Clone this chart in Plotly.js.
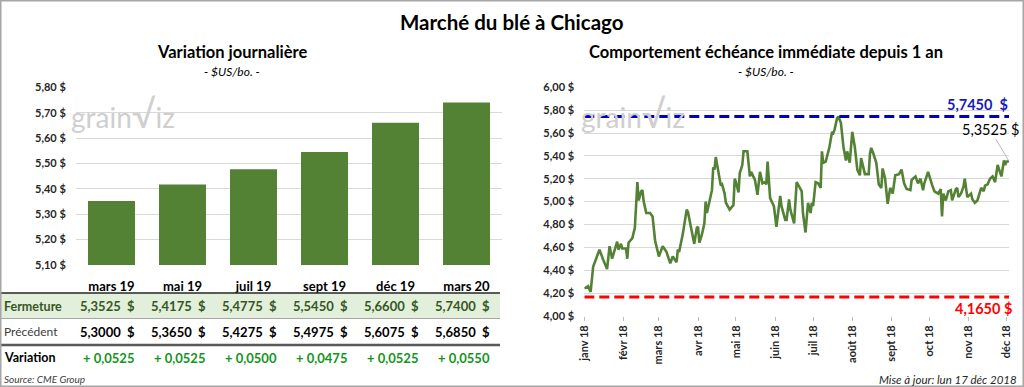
<!DOCTYPE html>
<html><head><meta charset="utf-8">
<script src="https://cdn.plot.ly/plotly-3.0.1.min.js"></script>
<style>html,body{margin:0;padding:0;background:#fff}</style>
</head><body><div id="chart" style="width:1024px;height:387px"></div>
<script>
// ---- Data: left chart (futures curve) ----
const contracts = ['mars 19', 'mai 19', 'juil 19', 'sept 19', 'déc 19', 'mars 20'];
const closing   = [5.3525, 5.4175, 5.4775, 5.5450, 5.6600, 5.7400];
const previous  = [5.3000, 5.3650, 5.4275, 5.4975, 5.6075, 5.6850];

// ---- Data: right chart (nearby contract over one year) ----
const dates = [
'2018-01-01','2018-01-04','2018-01-06','2018-01-08','2018-01-11','2018-01-13','2018-01-16','2018-01-19','2018-01-21','2018-01-23','2018-01-27','2018-01-28','2018-01-30','2018-01-31',
'2018-02-03','2018-02-04','2018-02-05','2018-02-08','2018-02-10','2018-02-12','2018-02-13','2018-02-15','2018-02-16','2018-02-17','2018-02-19','2018-02-21','2018-02-22','2018-02-24','2018-02-26',
'2018-03-01','2018-03-04','2018-03-07','2018-03-10','2018-03-12','2018-03-14','2018-03-15','2018-03-16','2018-03-17','2018-03-20','2018-03-23','2018-03-24','2018-03-27','2018-03-29','2018-03-31',
'2018-04-01','2018-04-02','2018-04-04','2018-04-06','2018-04-07','2018-04-08','2018-04-10','2018-04-12','2018-04-13','2018-04-14','2018-04-15','2018-04-17','2018-04-19','2018-04-20','2018-04-22','2018-04-23','2018-04-26','2018-04-29','2018-04-30',
'2018-05-01','2018-05-03','2018-05-04','2018-05-06','2018-05-07','2018-05-10','2018-05-12','2018-05-13','2018-05-16','2018-05-18','2018-05-20','2018-05-22','2018-05-24','2018-05-25','2018-05-26','2018-05-28','2018-05-31',
'2018-06-02','2018-06-05','2018-06-06','2018-06-09','2018-06-10','2018-06-12','2018-06-13','2018-06-16','2018-06-18','2018-06-20','2018-06-22','2018-06-23','2018-06-25','2018-06-27','2018-06-29','2018-06-30',
'2018-07-01','2018-07-03','2018-07-05','2018-07-07','2018-07-08','2018-07-09','2018-07-11','2018-07-14','2018-07-16','2018-07-17','2018-07-18','2018-07-20','2018-07-21','2018-07-23','2018-07-25','2018-07-27','2018-07-28','2018-07-30',
'2018-08-01','2018-08-03','2018-08-05','2018-08-07','2018-08-08','2018-08-11','2018-08-14','2018-08-15','2018-08-16','2018-08-18','2018-08-20','2018-08-22','2018-08-24','2018-08-25','2018-08-27','2018-08-29','2018-08-31',
'2018-09-02','2018-09-04','2018-09-07','2018-09-09','2018-09-11','2018-09-13','2018-09-16','2018-09-17','2018-09-20','2018-09-22','2018-09-24','2018-09-26','2018-09-27','2018-09-29','2018-09-30',
'2018-10-03','2018-10-05','2018-10-08','2018-10-10','2018-10-11','2018-10-12','2018-10-14','2018-10-16','2018-10-18','2018-10-19','2018-10-22','2018-10-23','2018-10-24','2018-10-26','2018-10-28','2018-10-29','2018-10-31',
'2018-11-03','2018-11-04','2018-11-06','2018-11-08','2018-11-10','2018-11-11','2018-11-13','2018-11-14','2018-11-16','2018-11-18','2018-11-20','2018-11-22','2018-11-24','2018-11-25','2018-11-27','2018-11-29','2018-11-30',
'2018-12-01','2018-12-03'
];
const prices = [
4.24,4.26,4.21,4.43,4.52,4.58,4.49,4.41,4.61,4.50,4.65,4.58,4.63,4.59,
4.59,4.50,4.64,4.68,4.77,5.17,5.01,5.09,5.10,5.00,4.90,4.90,4.90,4.87,4.66,
4.52,4.61,4.56,4.46,4.52,4.49,4.47,4.58,4.56,4.72,4.93,4.91,4.72,4.63,4.77,
4.78,4.64,4.71,4.81,5.00,4.90,5.01,5.10,5.30,5.28,5.39,5.25,5.14,5.15,5.07,4.99,4.93,4.97,5.20,
5.17,5.08,5.25,5.32,5.44,5.44,5.22,5.26,5.19,5.06,5.26,5.16,5.17,5.15,5.35,5.03,4.96,
4.78,5.05,4.96,4.84,4.84,5.02,4.93,4.81,5.17,5.13,5.09,4.90,4.73,4.99,4.90,4.99,
4.96,5.17,5.16,5.12,5.44,5.34,5.35,5.48,5.61,5.60,5.63,5.73,5.745,5.69,5.48,5.36,5.44,5.34,
5.61,5.48,5.28,5.23,5.38,5.24,5.24,5.42,5.47,5.41,5.34,5.15,5.12,5.29,5.20,4.98,5.12,
5.07,5.23,5.24,5.28,5.16,5.11,5.10,5.19,5.22,5.16,5.20,5.10,5.16,5.23,5.26,
5.15,5.09,5.07,5.11,4.87,5.07,5.01,5.09,5.10,5.01,5.11,5.12,5.04,5.07,5.13,5.20,5.04,
5.07,5.02,4.99,5.01,5.10,5.12,5.09,5.14,5.15,5.20,5.22,5.17,5.32,5.28,5.22,5.36,5.32,
5.35,5.3525
];
const monthTicks  = ['2018-01-01','2018-02-01','2018-03-01','2018-04-01','2018-05-01','2018-06-01','2018-07-01','2018-08-01','2018-09-01','2018-10-01','2018-11-01','2018-12-01'];
const monthLabels = ['janv 18','févr 18','mars 18','avr 18','mai 18','juin 18','juil 18','août 18','sept 18','oct 18','nov 18','déc 18'];
const yearHigh = 5.7450;
const yearLow  = 4.1650;

// ---- Styling ----
const FONT = 'Lato, "Open Sans", sans-serif';
const GREEN = '#548235';
const fmt4 = v => v.toFixed(4).replace('.', ',');
const NB = '\u00a0';

const traces = [
  { type: 'bar', x: contracts, y: closing, xaxis: 'x', yaxis: 'y',
    marker: { color: GREEN, line: { width: 0 } }, hoverinfo: 'skip' },
  { type: 'scatter', mode: 'lines', x: dates, y: prices, xaxis: 'x2', yaxis: 'y2',
    line: { color: GREEN, width: 2.6 }, hoverinfo: 'skip' }
];

const ann = [];
function A(o) { ann.push(Object.assign({ showarrow: false, xanchor: 'center', yanchor: 'middle', font: { family: FONT, size: 12, color: '#000' } }, o)); }

// Titles
A({ text: '<b>Marché du blé à Chicago</b>', xref: 'paper', yref: 'paper', x: 512/1024, y: 1 - 22/387, font: { family: FONT, size: 20.5, color: '#000' } });
A({ text: '<b>Variation journalière</b>', xref: 'paper', yref: 'paper', x: 232/1024, y: 1 - 52/387, font: { family: FONT, size: 16.5, color: '#000' } });
A({ text: '<i>- $US/bo. -</i>', xref: 'paper', yref: 'paper', x: 232/1024, y: 1 - 71/387, font: { family: FONT, size: 12, color: '#000' } });
A({ text: '<b>Comportement échéance immédiate depuis 1 an</b>', xref: 'paper', yref: 'paper', x: 766/1024, y: 1 - 52/387, font: { family: FONT, size: 16.5, color: '#000' } });
A({ text: '<i>- $US/bo. -</i>', xref: 'paper', yref: 'paper', x: 766/1024, y: 1 - 71/387, font: { family: FONT, size: 12, color: '#000' } });

// Watermarks
A({ text: 'grain<span style="font-size:38px">√</span>iz', xref: 'paper', yref: 'paper', x: 69/1024, y: 1 - 113/387, xanchor: 'left', font: { family: FONT, size: 28, color: '#cfcfcf' } });
A({ text: 'grain<span style="font-size:38px">√</span>iz', xref: 'paper', yref: 'paper', x: 579/1024, y: 1 - 113/387, xanchor: 'left', font: { family: FONT, size: 28, color: '#cfcfcf' } });

// Table row labels
const rowY = { ferm: 1 - 306/387, prec: 1 - 331.5/387, vari: 1 - 357.5/387 };
A({ text: '<b>Fermeture</b>', xref: 'paper', yref: 'paper', x: 2/1024, y: rowY.ferm, xanchor: 'left', font: { family: FONT, size: 12.5, color: '#375623' } });
A({ text: 'Précédent', xref: 'paper', yref: 'paper', x: 2/1024, y: rowY.prec, xanchor: 'left', font: { family: FONT, size: 12, color: '#404040' } });
A({ text: '<b>Variation</b>', xref: 'paper', yref: 'paper', x: 2/1024, y: rowY.vari, xanchor: 'left', font: { family: FONT, size: 12.5, color: '#000' } });
A({ text: '<i>Source: CME Group</i>', xref: 'paper', yref: 'paper', x: 2/1024, y: 1 - 379/387, xanchor: 'left', font: { family: FONT, size: 10, color: '#404040' } });

contracts.forEach((c, i) => {
  A({ text: '<b>' + fmt4(closing[i]) + NB + NB + '$</b>', xref: 'x', yref: 'paper', x: c, y: rowY.ferm, xanchor: 'right', xshift: 25, font: { family: FONT, size: 13, color: '#375623' } });
  A({ text: '<b>' + fmt4(previous[i]) + NB + NB + '$</b>', xref: 'x', yref: 'paper', x: c, y: rowY.prec, xanchor: 'right', xshift: 25, font: { family: FONT, size: 13, color: '#000' } });
  const d = closing[i] - previous[i];
  A({ text: '<b>' + (d >= 0 ? '+ ' : '- ') + fmt4(Math.abs(d)) + '</b>', xref: 'x', yref: 'paper', x: c, y: rowY.vari, xshift: -3, font: { family: FONT, size: 13, color: '#13951b' } });
});

// Right chart labels
A({ text: '<b>' + fmt4(yearHigh) + NB + NB + '$</b>', xref: 'paper', yref: 'y2', x: 1010/1024, y: yearHigh, xanchor: 'right', yshift: 12, font: { family: FONT, size: 14.5, color: '#1a1ab8' } });
A({ text: '<b>' + fmt4(yearLow) + NB + '$</b>', xref: 'paper', yref: 'y2', x: 1014/1024, y: yearLow, xanchor: 'right', yshift: -11, font: { family: FONT, size: 14.5, color: '#ff0000' } });
const lastDate = dates[dates.length - 1], lastPrice = prices[prices.length - 1];
ann.push({ text: fmt4(lastPrice) + NB + '$', xref: 'x2', yref: 'y2', x: lastDate, y: lastPrice, showarrow: true, arrowhead: 0, arrowwidth: 0.8, arrowcolor: '#a6a6a6', ax: -19, ay: -32, font: { family: FONT, size: 14.5, color: '#000' } });
A({ text: '<i>Mise à jour: lun 17 déc 2018</i>', xref: 'paper', yref: 'paper', x: 1019/1024, y: 1 - 379/387, xanchor: 'right', font: { family: FONT, size: 11.5, color: '#262626' } });

// Shapes: table structure, reference lines, border
const P = v => 1 - v/387;
const shapes = [
  { type: 'rect', xref: 'paper', yref: 'paper', x0: 0, x1: 500/1024, y0: P(318), y1: P(293), fillcolor: '#e2efda', line: { width: 0 }, layer: 'below' },
  { type: 'line', xref: 'paper', yref: 'paper', x0: 0, x1: 500/1024, y0: P(293), y1: P(293), line: { color: '#262626', width: 1.5 } },
  { type: 'line', xref: 'paper', yref: 'paper', x0: 0, x1: 500/1024, y0: P(318.5), y1: P(318.5), line: { color: '#a6a6a6', width: 1 } },
  { type: 'line', xref: 'paper', yref: 'paper', x0: 0, x1: 500/1024, y0: P(345), y1: P(345), line: { color: '#595959', width: 2.5 } },
  { type: 'line', xref: 'x2', yref: 'y2', x0: dates[0], x1: lastDate, y0: yearHigh, y1: yearHigh, line: { color: '#0000c0', width: 3, dash: '10px,5px' } },
  { type: 'line', xref: 'x2', yref: 'y2', x0: dates[0], x1: lastDate, y0: yearLow, y1: yearLow, line: { color: '#ff0000', width: 3, dash: '10px,5px' } },
  { type: 'rect', xref: 'paper', yref: 'paper', x0: 0, x1: 1, y0: 0, y1: 1, line: { color: '#a6a6a6', width: 3 }, fillcolor: 'rgba(0,0,0,0)' }
];

const tickFont = { family: FONT, size: 11, color: '#262626', weight: 'bold' };
const layout = {
  width: 1024, height: 387,
  margin: { l: 0, r: 0, t: 0, b: 0 },
  paper_bgcolor: '#fff', plot_bgcolor: 'rgba(0,0,0,0)',
  separators: ', ',
  showlegend: false,
  font: { family: FONT },
  bargap: 24/71,
  xaxis: { domain: [76/1024, 502/1024], type: 'category', showgrid: false, zeroline: false, showline: false,
           ticks: 'outside', ticklen: 9, tickcolor: 'rgba(0,0,0,0)',
           tickfont: { family: FONT, size: 13, color: '#000', weight: 'bold' }, fixedrange: true },
  yaxis: { domain: [P(265), P(87.3)], range: [5.10, 5.80], dtick: 0.1, tick0: 5.1, tickformat: '.2f', ticksuffix: ' $',
           showgrid: true, gridcolor: '#d9d9d9', gridwidth: 1, zeroline: false, showline: false,
           ticks: 'outside', ticklen: 7, tickcolor: 'rgba(0,0,0,0)', tickfont: tickFont },
  xaxis2: { domain: [584.3/1024, 1009/1024], anchor: 'y2', type: 'date', range: [dates[0], lastDate],
            tickmode: 'array', tickvals: monthTicks, ticktext: monthLabels, tickangle: -90,
            ticks: 'outside', ticklen: 4, tickcolor: '#bfbfbf', showgrid: false, zeroline: false, showline: false,
            tickfont: tickFont },
  yaxis2: { domain: [P(315.9), P(87.3)], anchor: 'x2', range: [4, 6], dtick: 0.2, tick0: 4, tickformat: '.2f', ticksuffix: ' $',
            showgrid: true, gridcolor: '#d9d9d9', gridwidth: 1, zeroline: false, showline: false,
            ticks: 'outside', ticklen: 7, tickcolor: 'rgba(0,0,0,0)', tickfont: tickFont },
  annotations: ann,
  shapes: shapes
};

Plotly.newPlot('chart', traces, layout, { staticPlot: true, displayModeBar: false });
</script>
</body></html>
